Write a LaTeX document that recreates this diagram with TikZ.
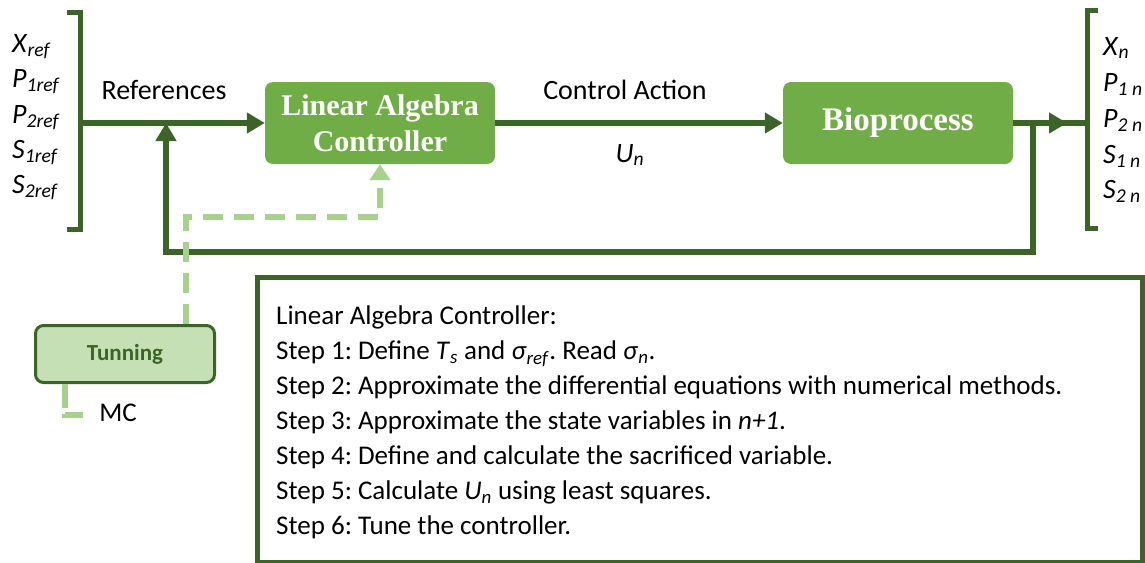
\documentclass[tikz,border=0pt]{standalone}
\usepackage{fontspec}
\setmainfont{Carlito}
\newfontfamily\blockfont{Liberation Serif}
\usetikzlibrary{arrows.meta}
\frenchspacing

\definecolor{darkgreen}{HTML}{3C6428}
\definecolor{midgreen}{HTML}{70AD47}
\definecolor{lightgreen}{HTML}{A9D18E}
\definecolor{palegreen}{HTML}{C5E0B4}

\newcommand{\var}[2]{\textit{#1}\textsubscript{\textit{#2}}}

\tikzset{
  block/.style={fill=midgreen, rounded corners=8pt, minimum width=230pt,
    minimum height=82pt, text=white, align=center,
    font=\blockfont\bfseries\fontsize{30}{36}\selectfont},
  flow/.style={darkgreen, line width=6.5pt, -{Triangle[length=18pt,width=20pt]}},
  bracket/.style={darkgreen, line width=5pt},
  tune/.style={lightgreen, line width=6.5pt, dash pattern=on 20pt off 11pt},
  lbl/.style={font=\fontsize{28}{30}\selectfont, anchor=base west, inner sep=0pt},
  say/.style={font=\fontsize{28}{30}\selectfont},
}

\begin{document}
\begin{tikzpicture}[x=1pt, y=-1pt]
  \useasboundingbox (0,0) rectangle (1145,562);
  % main blocks
  \node[block] (lac) at (380,123) {Linear Algebra\\Controller};
  \node[block, font=\blockfont\bfseries\fontsize{33}{36}\selectfont] (bio) at (898,123) {Bioprocess};
  \coordinate (lb) at (80,123);
  \coordinate (join) at (166,123);
  \coordinate (fork) at (1033,123);
  \coordinate (outtip) at (1067,123);
  \coordinate (rb) at (1087,123);
  \coordinate (fbcorner) at (1033,252);
  % brackets
  \draw[bracket] (67,12) -- (80,12) -- (80,229) -- (67,229);
  \draw[bracket] (1098,10) -- (1087,10) -- (1087,228) -- (1098,228);
  \node[lbl] (xref) at (12,52) {\var{X}{ref}};
  \node[lbl] (p1ref) at (12,87) {\var{P}{1ref}};
  \node[lbl] (p2ref) at (12,123) {\var{P}{2ref}};
  \node[lbl] (s1ref) at (12,158) {\var{S}{1ref}};
  \node[lbl] (s2ref) at (12,193) {\var{S}{2ref}};
  \node[lbl] (xn) at (1103,55) {\var{X}{n}};
  \node[lbl] (p1n) at (1103,91) {\var{P}{1 n}};
  \node[lbl] (p2n) at (1103,127) {\var{P}{2 n}};
  \node[lbl] (s1n) at (1103,163) {\var{S}{1 n}};
  \node[lbl] (s2n) at (1103,198) {\var{S}{2 n}};
  % signals
  \draw[flow] (lb) -- (lac.west);
  \draw[flow] (lac.east) -- (bio.west);
  \draw[flow, -] (bio.east) -- (rb);
  \draw[flow] (bio.east) -- (outtip);
  \draw[flow, line width=6pt] (fork) -- (fbcorner) -| (join);
  \node[say] (refs) at (164,90) {References};
  \node[say] (act) at (625,90) {Control Action};
  \node[say] (un) at (630,155) {\var{U}{n}};
  % tuning
  \node[draw=darkgreen, line width=3pt, fill=palegreen, rounded corners=8pt,
    minimum width=179pt, minimum height=57pt, text=darkgreen,
    font=\bfseries\fontsize{23}{28}\selectfont] (tun) at (125,354) {Tunning};
  \coordinate (tapup) at (186,217);
  \draw[tune, -{Triangle[length=16pt,width=20pt]}] (tun.north -| tapup) -- (tapup) -| (lac.south);
  \node[font=\fontsize{27}{30}\selectfont] (mc) at (118,413) {MC};
  \coordinate (mccorner) at (65,415);
  \draw[tune, dash pattern=on 24pt off 6pt] (tun.south -| mccorner) -- (mccorner) -- (83,415);
  % steps
  \node[draw=darkgreen, line width=4.5pt, anchor=north west, minimum width=885pt,
    minimum height=285pt] (steps) at (255,275) {};
  \node[anchor=north west, inner sep=0pt, align=left,
    font=\fontsize{27}{35}\selectfont] (steptext) at (276,306) {%
    Linear Algebra Controller:\\
    Step 1: Define \var{T}{s} and \var{σ}{ref}. Read \var{σ}{n}.\\
    Step 2: Approximate the differential equations with numerical methods.\\
    Step 3: Approximate the state variables in \textit{n+1}.\\
    Step 4: Define and calculate the sacrificed variable.\\
    Step 5: Calculate \var{U}{n} using least squares.\\
    Step 6: Tune the controller.};
\end{tikzpicture}
\end{document}
